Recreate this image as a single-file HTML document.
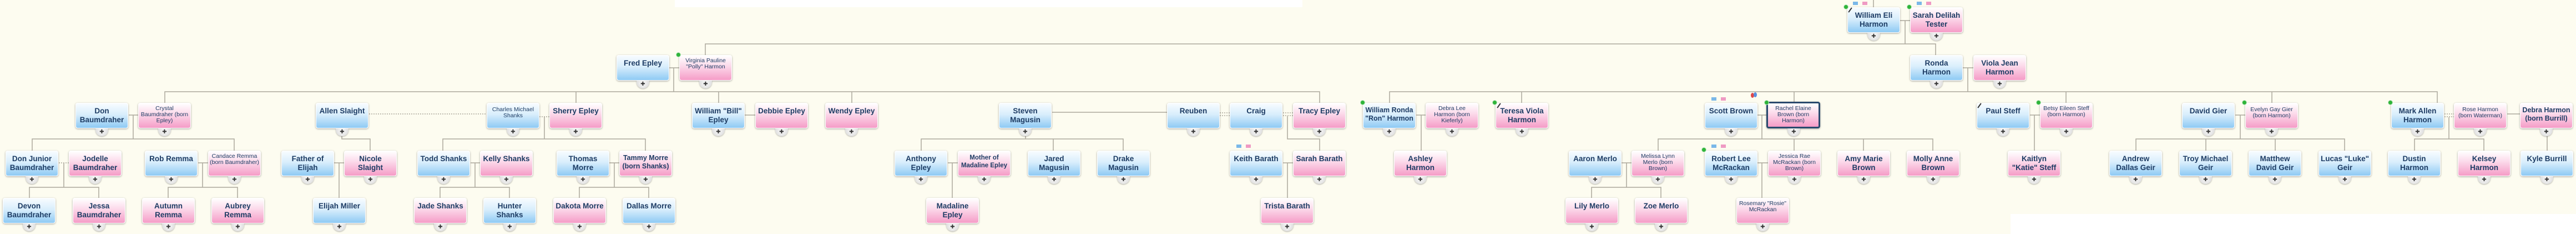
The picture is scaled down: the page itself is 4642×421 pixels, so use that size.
<!DOCTYPE html>
<html><head><meta charset="utf-8">
<style>
html,body{margin:0;padding:0}
body{width:4642px;height:421px;background:#fdfcf0;position:relative;overflow:hidden;font-family:"Liberation Sans",Arial,sans-serif}
.n{position:absolute;width:93px;height:44px;border:1px solid #fff;border-radius:4px;box-shadow:0 1px 3px rgba(0,0,0,.35);text-align:center;color:#1d3c64;font-weight:bold;font-size:13.5px;line-height:16px;padding-top:0;box-sizing:content-box}
.n span{display:block;padding:6px 2px 0}
.b{background:linear-gradient(#f8fcff,#d9eefc 45%,#8ecaf4)}
.p{background:linear-gradient(#fff,#fcdcec 40%,#f59cc7)}
.s{font-weight:normal;font-size:10.5px;line-height:11px}
.s span{padding-top:4px}
.m{font-size:12.5px;line-height:15px}
.m span{padding-top:5px}
.sel{border:3px solid #2a4a6e;width:91px;height:42px;top:183px}
.k{position:absolute;width:23px;height:14px;border-radius:0 0 12px 12px;background:radial-gradient(circle at 50% 30%,#fafafa,#d6d6d6);box-shadow:0 1px 2px rgba(0,0,0,.3);text-align:center;font-size:10px;line-height:13px;color:#333}
.g{position:absolute;width:9px;height:9px;border-radius:50%;background:#2fb43a;border:1px solid #bfe8c0;box-sizing:border-box}
.ic{position:absolute;width:26px;height:6px}
.ic:before{content:"";position:absolute;left:0;top:0;width:9px;height:6px;background:#7ab8e8}
.ic:after{content:"";position:absolute;right:0;top:0;width:9px;height:6px;background:#ef9ac3}
.sl{position:absolute;width:2px;height:10px;background:#333;transform:rotate(35deg)}
.w{position:absolute;background:#fff}
svg{position:absolute;left:0;top:0}
</style></head><body>
<div class="w" style="left:1216px;top:0;width:1131px;height:13px"></div>
<div class="w" style="left:3623px;top:385px;width:1019px;height:36px"></div>
<svg width="4642" height="421" fill="none" stroke="#aca89c" stroke-width="1.5">
<path d="M3376 0V13M3423 37H3442M3433 37V79M1271 99V79H3488V99
M1206 122H1224M1214 122V165M297 185V165H2378V185M1038 165V185M1295 165V185M1535 165V185
M3537 122H3556M3546 122V165M2504 185V165H4392V185M2742 165V185M3233 165V185M3723 165V185M4094 165V185
M232 207H249M240 207V250M58 271V250H422V271
M616 245V250H667V271
M1342 207H1361
M1896 202H2103M1848 245V250M1660 271V250H2024V271M1898 250V271
M2320 209V250H2378V271
M2552 207H2569M2561 207V271
M3167 207H3184M3175 207V250M2988 271V250H3483V271M3233 250V271M3358 250V271
M3658 207H3676M3666 207V271
M4028 207H4046M4037 207V250M3849 271V250H4225V271M3975 250V271M4100 250V271
M4518 205H4541M4413 211V250M4351 271V250H4476V271M4590 245V271
M115 293V337M53 356V337H178V356
M357 293H375M365 293V337M303 356V337H428V356
M602 293H620M611 293V356
M848 293H865M856 293V337M793 356V337H918V356
M1098 293H1116M1107 293V337M1044 356V337H1169V356
M1708 293H1726M1716 293V356
M2312 293H2330M2320 293V356
M2921 293H2940M2931 293V337M2868 356V337H2993V356
M3167 293H3186M3175 293V356
M981 210V250M798 271V250H1163V271"/>
<path stroke-dasharray="2 2" d="M665 205H877M972 210H990M106 293H124M2198 203H2216M2198 208H2216M2312 203H2330M2312 208H2330M4405 205H4422M4405 210H4422"/>
</svg>

<!-- row 0 -->
<div class="n b" style="left:3329px;top:13px"><span>William Eli Harmon</span></div>
<div class="n p" style="left:3442px;top:13px"><span>Sarah Delilah Tester</span></div>
<!-- row 1 -->
<div class="n b" style="left:1111px;top:99px"><span>Fred Epley</span></div>
<div class="n p s" style="left:1224px;top:99px"><span>Virginia Pauline "Polly" Harmon</span></div>
<div class="n b" style="left:3442px;top:99px"><span>Ronda Harmon</span></div>
<div class="n p" style="left:3556px;top:99px"><span>Viola Jean Harmon</span></div>
<!-- row 2 -->
<div class="n b" style="left:136px;top:185px"><span>Don Baumdraher</span></div>
<div class="n p s" style="left:249px;top:185px"><span>Crystal Baumdraher (born Epley)</span></div>
<div class="n b" style="left:569px;top:185px"><span>Allen Slaight</span></div>
<div class="n b s" style="left:877px;top:185px"><span style="padding-top:6px">Charles Michael Shanks</span></div>
<div class="n p" style="left:990px;top:185px"><span>Sherry Epley</span></div>
<div class="n b" style="left:1247px;top:185px"><span>William "Bill" Epley</span></div>
<div class="n p" style="left:1361px;top:185px"><span>Debbie Epley</span></div>
<div class="n p" style="left:1487px;top:185px"><span>Wendy Epley</span></div>
<div class="n b" style="left:1800px;top:185px"><span>Steven Magusin</span></div>
<div class="n b" style="left:2103px;top:185px"><span>Reuben</span></div>
<div class="n b" style="left:2216px;top:185px"><span>Craig</span></div>
<div class="n p" style="left:2330px;top:185px"><span>Tracy Epley</span></div>
<div class="n b m" style="left:2456px;top:185px"><span>William Ronda "Ron" Harmon</span></div>
<div class="n p s" style="left:2569px;top:185px"><span>Debra Lee Harmon (born Kieferly)</span></div>
<div class="n p" style="left:2695px;top:185px"><span>Teresa Viola Harmon</span></div>
<div class="n b" style="left:3072px;top:185px"><span>Scott Brown</span></div>
<div class="n p s sel" style="left:3183px"><span>Rachel Elaine Brown (born Harmon)</span></div>
<div class="n b" style="left:3562px;top:185px"><span>Paul Steff</span></div>
<div class="n p s" style="left:3676px;top:185px"><span>Betsy Eileen Steff (born Harmon)</span></div>
<div class="n b" style="left:3932px;top:185px"><span>David Gier</span></div>
<div class="n p s" style="left:4046px;top:185px"><span style="padding-top:6px">Evelyn Gay Gier (born Harmon)</span></div>
<div class="n b" style="left:4309px;top:185px"><span>Mark Allen Harmon</span></div>
<div class="n p s" style="left:4422px;top:185px"><span style="padding-top:6px">Rose Harmon (born Waterman)</span></div>
<div class="n p m" style="left:4541px;top:185px"><span>Debra Harmon (born Burrill)</span></div>
<!-- row 3 -->
<div class="n b" style="left:10px;top:271px"><span>Don Junior Baumdraher</span></div>
<div class="n p" style="left:124px;top:271px"><span>Jodelle Baumdraher</span></div>
<div class="n b" style="left:261px;top:271px"><span>Rob Remma</span></div>
<div class="n p s" style="left:375px;top:271px"><span>Candace Remma (born Baumdraher)</span></div>
<div class="n b" style="left:507px;top:271px"><span>Father of Elijah</span></div>
<div class="n p" style="left:620px;top:271px"><span>Nicole Slaight</span></div>
<div class="n b" style="left:752px;top:271px"><span>Todd Shanks</span></div>
<div class="n p" style="left:865px;top:271px"><span>Kelly Shanks</span></div>
<div class="n b" style="left:1003px;top:271px"><span>Thomas Morre</span></div>
<div class="n p m" style="left:1116px;top:271px"><span>Tammy Morre (born Shanks)</span></div>
<div class="n b" style="left:1612px;top:271px"><span>Anthony Epley</span></div>
<div class="n p m" style="left:1726px;top:271px;font-size:11.5px;line-height:14px"><span>Mother of Madaline Epley</span></div>
<div class="n b" style="left:1852px;top:271px"><span>Jared Magusin</span></div>
<div class="n b" style="left:1977px;top:271px"><span>Drake Magusin</span></div>
<div class="n b" style="left:2216px;top:271px"><span>Keith Barath</span></div>
<div class="n p" style="left:2330px;top:271px"><span>Sarah Barath</span></div>
<div class="n p" style="left:2512px;top:271px"><span>Ashley Harmon</span></div>
<div class="n b" style="left:2827px;top:271px"><span>Aaron Merlo</span></div>
<div class="n p s" style="left:2940px;top:271px"><span>Melissa Lynn Merlo (born Brown)</span></div>
<div class="n b" style="left:3072px;top:271px"><span>Robert Lee McRackan</span></div>
<div class="n p s" style="left:3186px;top:271px"><span>Jessica Rae McRackan (born Brown)</span></div>
<div class="n p" style="left:3311px;top:271px"><span>Amy Marie Brown</span></div>
<div class="n p" style="left:3436px;top:271px"><span>Molly Anne Brown</span></div>
<div class="n p" style="left:3618px;top:271px"><span>Kaitlyn "Katie" Steff</span></div>
<div class="n b" style="left:3801px;top:271px"><span>Andrew Dallas Geir</span></div>
<div class="n b" style="left:3927px;top:271px"><span>Troy Michael Geir</span></div>
<div class="n b" style="left:4052px;top:271px"><span>Matthew David Geir</span></div>
<div class="n b" style="left:4178px;top:271px"><span>Lucas "Luke" Geir</span></div>
<div class="n b" style="left:4303px;top:271px"><span>Dustin Harmon</span></div>
<div class="n p" style="left:4429px;top:271px"><span>Kelsey Harmon</span></div>
<div class="n b" style="left:4542px;top:271px"><span>Kyle Burrill</span></div>
<!-- row 4 -->
<div class="n b" style="left:5px;top:356px"><span>Devon Baumdraher</span></div>
<div class="n p" style="left:131px;top:356px"><span>Jessa Baumdraher</span></div>
<div class="n p" style="left:256px;top:356px"><span>Autumn Remma</span></div>
<div class="n p" style="left:381px;top:356px"><span>Aubrey Remma</span></div>
<div class="n b" style="left:564px;top:356px"><span>Elijah Miller</span></div>
<div class="n p" style="left:746px;top:356px"><span>Jade Shanks</span></div>
<div class="n b" style="left:871px;top:356px"><span>Hunter Shanks</span></div>
<div class="n p" style="left:997px;top:356px"><span>Dakota Morre</span></div>
<div class="n b" style="left:1122px;top:356px"><span>Dallas Morre</span></div>
<div class="n p" style="left:1669px;top:356px"><span>Madaline Epley</span></div>
<div class="n p" style="left:2272px;top:356px"><span>Trista Barath</span></div>
<div class="n p" style="left:2821px;top:356px"><span>Lily Merlo</span></div>
<div class="n p" style="left:2946px;top:356px"><span>Zoe Merlo</span></div>
<div class="n p s" style="left:3129px;top:356px"><span>Rosemary "Rosie" McRackan</span></div>

<!-- plus buttons -->
<div class="k" style="left:3365px;top:59px">✚</div><div class="k" style="left:3478px;top:59px">✚</div>
<div class="k" style="left:1147px;top:145px">✚</div><div class="k" style="left:1260px;top:145px">✚</div><div class="k" style="left:3478px;top:145px">✚</div><div class="k" style="left:3592px;top:145px">✚</div>
<div class="k" style="left:172px;top:231px">✚</div><div class="k" style="left:285px;top:231px">✚</div><div class="k" style="left:605px;top:231px">✚</div><div class="k" style="left:913px;top:231px">✚</div><div class="k" style="left:1026px;top:231px">✚</div><div class="k" style="left:1283px;top:231px">✚</div><div class="k" style="left:1397px;top:231px">✚</div><div class="k" style="left:1523px;top:231px">✚</div><div class="k" style="left:1836px;top:231px">✚</div><div class="k" style="left:2139px;top:231px">✚</div><div class="k" style="left:2252px;top:231px">✚</div><div class="k" style="left:2366px;top:231px">✚</div><div class="k" style="left:2492px;top:231px">✚</div><div class="k" style="left:2605px;top:231px">✚</div><div class="k" style="left:2731px;top:231px">✚</div><div class="k" style="left:3108px;top:231px">✚</div><div class="k" style="left:3221px;top:231px">✚</div><div class="k" style="left:3598px;top:231px">✚</div><div class="k" style="left:3712px;top:231px">✚</div><div class="k" style="left:3968px;top:231px">✚</div><div class="k" style="left:4082px;top:231px">✚</div><div class="k" style="left:4345px;top:231px">✚</div><div class="k" style="left:4458px;top:231px">✚</div><div class="k" style="left:4577px;top:231px">✚</div>
<div class="k" style="left:46px;top:317px">✚</div><div class="k" style="left:160px;top:317px">✚</div><div class="k" style="left:297px;top:317px">✚</div><div class="k" style="left:411px;top:317px">✚</div><div class="k" style="left:543px;top:317px">✚</div><div class="k" style="left:656px;top:317px">✚</div><div class="k" style="left:788px;top:317px">✚</div><div class="k" style="left:901px;top:317px">✚</div><div class="k" style="left:1039px;top:317px">✚</div><div class="k" style="left:1152px;top:317px">✚</div><div class="k" style="left:1648px;top:317px">✚</div><div class="k" style="left:1762px;top:317px">✚</div><div class="k" style="left:1888px;top:317px">✚</div><div class="k" style="left:2013px;top:317px">✚</div><div class="k" style="left:2252px;top:317px">✚</div><div class="k" style="left:2366px;top:317px">✚</div><div class="k" style="left:2548px;top:317px">✚</div><div class="k" style="left:2863px;top:317px">✚</div><div class="k" style="left:2976px;top:317px">✚</div><div class="k" style="left:3108px;top:317px">✚</div><div class="k" style="left:3222px;top:317px">✚</div><div class="k" style="left:3347px;top:317px">✚</div><div class="k" style="left:3472px;top:317px">✚</div><div class="k" style="left:3654px;top:317px">✚</div><div class="k" style="left:3837px;top:317px">✚</div><div class="k" style="left:3963px;top:317px">✚</div><div class="k" style="left:4088px;top:317px">✚</div><div class="k" style="left:4214px;top:317px">✚</div><div class="k" style="left:4339px;top:317px">✚</div><div class="k" style="left:4465px;top:317px">✚</div><div class="k" style="left:4578px;top:317px">✚</div>
<div class="k" style="left:41px;top:402px">✚</div><div class="k" style="left:167px;top:402px">✚</div><div class="k" style="left:292px;top:402px">✚</div><div class="k" style="left:417px;top:402px">✚</div><div class="k" style="left:600px;top:402px">✚</div><div class="k" style="left:782px;top:402px">✚</div><div class="k" style="left:907px;top:402px">✚</div><div class="k" style="left:1033px;top:402px">✚</div><div class="k" style="left:1158px;top:402px">✚</div><div class="k" style="left:1705px;top:402px">✚</div><div class="k" style="left:2308px;top:402px">✚</div><div class="k" style="left:2857px;top:402px">✚</div><div class="k" style="left:2982px;top:402px">✚</div><div class="k" style="left:3165px;top:402px">✚</div>

<!-- icons -->
<div class="g" style="left:3322px;top:8px"></div><div class="g" style="left:3436px;top:8px"></div><div class="g" style="left:1218px;top:94px"></div><div class="g" style="left:2451px;top:180px"></div><div class="g" style="left:2689px;top:180px"></div><div class="g" style="left:3179px;top:180px"></div><div class="g" style="left:3669px;top:180px"></div><div class="g" style="left:4040px;top:180px"></div><div class="g" style="left:4303px;top:180px"></div><div class="g" style="left:3066px;top:265px"></div>
<div class="ic" style="left:3339px;top:3px"></div><div class="ic" style="left:3454px;top:3px"></div><div class="ic" style="left:3084px;top:175px"></div><div class="ic" style="left:3084px;top:260px"></div><div class="ic" style="left:2228px;top:260px"></div>
<div class="sl" style="left:3333px;top:13px"></div><div class="sl" style="left:2700px;top:185px"></div><div class="sl" style="left:3566px;top:185px"></div>
<div style="position:absolute;left:3155px;top:167px;width:6px;height:9px;border-radius:50%;background:#e04848"></div>
<div style="position:absolute;left:3160px;top:166px;width:6px;height:9px;border-radius:50%;background:#5a8fe0"></div>
</body></html>
